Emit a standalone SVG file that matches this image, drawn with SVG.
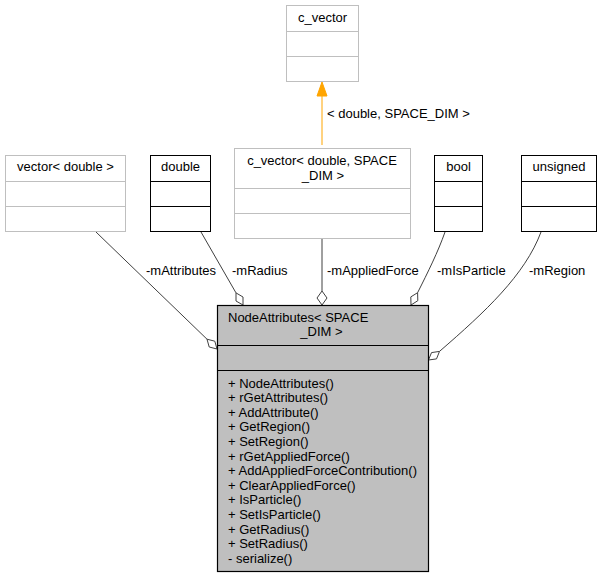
<svg xmlns="http://www.w3.org/2000/svg" width="600" height="579" viewBox="0 0 600 579">
<style>
text{font-family:"Liberation Sans",Arial,Helvetica,sans-serif;font-size:13px;fill:#000}
.c{text-anchor:middle}
.g{fill:#fff;stroke:#bfbfbf;stroke-width:1}
.b{fill:#fff;stroke:#000;stroke-width:1}
.e{fill:none;stroke:#404040;stroke-width:1}
.d{fill:#fff;stroke:#404040;stroke-width:1}
</style>
<rect width="600" height="579" fill="#fff"/>
<g id="connectors">
<line x1="322" y1="145" x2="322" y2="96" stroke="#ffa500" stroke-width="1"/>
<polygon points="317,96 322,82 327,96" fill="#ffa500" stroke="#ffa500"/>
<text x="327" y="118">&lt; double, SPACE_DIM &gt;</text>
<path class="e" d="M96,232 L207,339.2"/>
<polygon class="d" points="207,339.2 214.8,341.2 217,349 209.2,347"/>
<text x="146" y="275">-mAttributes</text>
<path class="e" d="M201,232 L236,292.9"/>
<polygon class="d" points="236,292.9 243,297 243,305 236,301"/>
<text x="232" y="275">-mRadius</text>
<path class="e" d="M322,238 L322,291"/>
<polygon class="d" points="322,291 327,298 322,305 317,298"/>
<text x="327" y="275">-mAppliedForce</text>
<path class="e" d="M445,232 C438,252 428,272 417.6,292.7"/>
<polygon class="d" points="417.6,292.7 417.8,300.7 411,305 410.8,296.9"/>
<text x="437" y="275">-mIsParticle</text>
<path class="e" d="M541,232 C525,275 485,312 439.5,351.4"/>
<polygon class="d" points="439.5,351.4 436.5,358.9 428.5,360 431.5,352.6"/>
<text x="529" y="275">-mRegion</text>
</g>
<g id="c_vector">
<rect class="g" x="286.5" y="5.5" width="72" height="76"/>
<line class="g" x1="286.5" y1="31.5" x2="358.5" y2="31.5"/>
<line class="g" x1="286.5" y1="56.5" x2="358.5" y2="56.5"/>
<text class="c" x="322.5" y="22">c_vector</text>
</g>
<g id="vector_double">
<rect class="g" x="5.5" y="155.5" width="120" height="76"/>
<line class="g" x1="5.5" y1="181.5" x2="125.5" y2="181.5"/>
<line class="g" x1="5.5" y1="206.5" x2="125.5" y2="206.5"/>
<text class="c" x="65.5" y="171">vector&lt; double &gt;</text>
</g>
<g id="double">
<rect class="b" x="150.5" y="155.5" width="60" height="76"/>
<line class="b" x1="150.5" y1="181.5" x2="210.5" y2="181.5"/>
<line class="b" x1="150.5" y1="206.5" x2="210.5" y2="206.5"/>
<text class="c" x="180.5" y="171">double</text>
</g>
<g id="c_vector_double_SPACE_DIM">
<rect class="g" x="234.5" y="148.5" width="176" height="90"/>
<line class="g" x1="234.5" y1="188.5" x2="410.5" y2="188.5"/>
<line class="g" x1="234.5" y1="213.5" x2="410.5" y2="213.5"/>
<text class="c" x="322" y="165">c_vector&lt; double, SPACE</text>
<text class="c" x="323" y="179.5">_DIM &gt;</text>
</g>
<g id="bool">
<rect class="b" x="434.5" y="155.5" width="48" height="76"/>
<line class="b" x1="434.5" y1="181.5" x2="482.5" y2="181.5"/>
<line class="b" x1="434.5" y1="206.5" x2="482.5" y2="206.5"/>
<text class="c" x="458.5" y="171">bool</text>
</g>
<g id="unsigned">
<rect class="b" x="521.5" y="155.5" width="75" height="76"/>
<line class="b" x1="521.5" y1="181.5" x2="596.5" y2="181.5"/>
<line class="b" x1="521.5" y1="206.5" x2="596.5" y2="206.5"/>
<text class="c" x="559" y="171">unsigned</text>
</g>
<g id="NodeAttributes">
<rect x="217.5" y="305.5" width="211" height="266" fill="#bfbfbf" stroke="#000" stroke-width="1.2"/>
<line x1="217.5" y1="345.5" x2="428.5" y2="345.5" stroke="#000" stroke-width="1.2"/>
<line x1="217.5" y1="370.5" x2="428.5" y2="370.5" stroke="#000" stroke-width="1.2"/>
<text x="228" y="321.5">NodeAttributes&lt; SPACE</text>
<text class="c" x="321.5" y="336">_DIM &gt;</text>
<text x="228" y="387.5">+ NodeAttributes()</text>
<text x="228" y="402.1">+ rGetAttributes()</text>
<text x="228" y="416.7">+ AddAttribute()</text>
<text x="228" y="431.3">+ GetRegion()</text>
<text x="228" y="445.9">+ SetRegion()</text>
<text x="228" y="460.5">+ rGetAppliedForce()</text>
<text x="228" y="475.1">+ AddAppliedForceContribution()</text>
<text x="228" y="489.7">+ ClearAppliedForce()</text>
<text x="228" y="504.3">+ IsParticle()</text>
<text x="228" y="518.9">+ SetIsParticle()</text>
<text x="228" y="533.5">+ GetRadius()</text>
<text x="228" y="548.1">+ SetRadius()</text>
<text x="228" y="562.7">- serialize()</text>
</g>
</svg>
